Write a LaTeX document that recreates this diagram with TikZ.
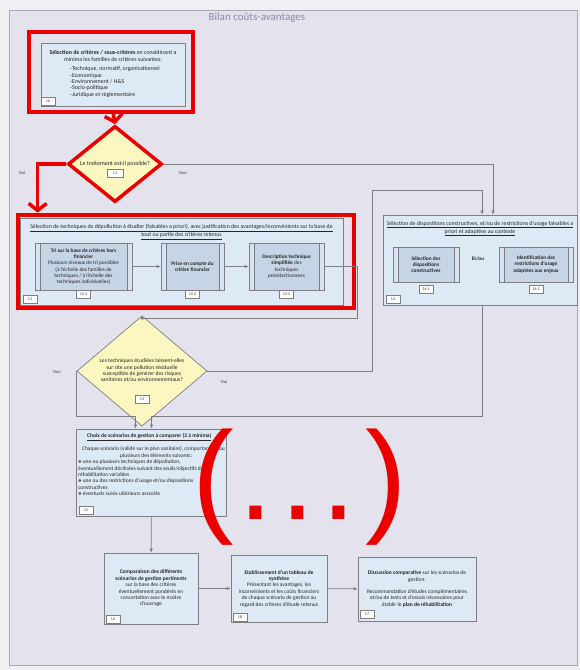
\documentclass[tikz,border=0pt]{standalone}
\usepackage{fontspec}
\setmainfont{Carlito}
\newfontfamily\symfont{DejaVu Sans}
\newfontfamily\arialfont{Liberation Sans}
\usetikzlibrary{shapes.geometric,arrows.meta}
\definecolor{pageback}{RGB}{240,239,243}
\definecolor{slideback}{RGB}{228,226,236}
\definecolor{framegray}{RGB}{170,168,180}
\definecolor{boxblue}{RGB}{221,233,244}
\definecolor{subblue}{RGB}{198,213,229}
\definecolor{barblue}{RGB}{216,227,239}
\definecolor{decyellow}{RGB}{252,247,192}
\definecolor{linegray}{RGB}{125,125,130}
\definecolor{titlegray}{RGB}{140,136,170}
\definecolor{flagred}{RGB}{235,0,0}
\newcommand\puce{{\symfont\fontsize{4.2}{4}\selectfont ❖}\,}
\begin{document}
\begin{tikzpicture}[x=1pt,y=-1pt]
\tikzset{box/.style={draw=linegray,fill=boxblue,line width=0.7pt,inner sep=2pt,align=center,text=black!85,font=\fontsize{5.5}{6.4}\selectfont}}
\tikzset{proc/.style={box,fill=subblue,font=\fontsize{5.3}{6.3}\selectfont,path picture={
  \fill[barblue] (path picture bounding box.north west) rectangle ([xshift=5pt]path picture bounding box.south west);
  \fill[barblue] (path picture bounding box.north east) rectangle ([xshift=-5pt]path picture bounding box.south east);
  \draw[linegray,line width=0.6pt] ([xshift=5pt]path picture bounding box.north west) -- ([xshift=5pt]path picture bounding box.south west)
    ([xshift=-5pt]path picture bounding box.north east) -- ([xshift=-5pt]path picture bounding box.south east);}}}
\tikzset{tag/.style={draw=linegray,fill=white,line width=0.5pt,minimum width=14pt,minimum height=8pt,inner sep=0pt,text=black!80,font=\fontsize{4}{4}\selectfont}}
\tikzset{decision/.style={diamond,draw=linegray,line width=0.7pt,fill=decyellow,inner sep=0pt,align=center,text=black!85,font=\fontsize{5.6}{6.4}\selectfont}}
\tikzset{boxtitle/.style={anchor=north,yshift=-3pt,align=center,text=black!85,font=\fontsize{5.8}{6.6}\selectfont}}
\tikzset{note/.style={text=black!75,font=\fontsize{4.5}{5}\selectfont}}
\tikzset{flow/.style={draw=linegray,line width=0.7pt,-{Latex[length=4pt,width=3.5pt]}}}
\tikzset{redflow/.style={draw=flagred,line width=3.5pt,-{Straight Barb[length=7pt,width=18pt]}}}
\tikzset{redframe/.style={draw=flagred,line width=4pt}}

\useasboundingbox[fill=pageback] (0,0) rectangle (580,670);
\draw[framegray,fill=slideback,line width=0.6pt] (9,10) rectangle (577,665);
\node[text=titlegray,font=\fontsize{11}{12}\selectfont] (titre) at (257,18) {Bilan coûts-avantages};

% criteres
\node[box,minimum width=144pt,minimum height=63pt,font=\fontsize{5.9}{6.4}\selectfont] (b10) at (113,74.5)
  {\textbf{Sélection de critères / sous-critères} en considérant a\\minima les familles de critères suivantes:\\[4pt]
   \hspace*{4pt}\begin{tabular}{@{}l@{}}-Technique, normatif, organisationnel\\-Economique\\-Environnement / H\&S\\-Socio-politique\\-Juridique et réglementaire\end{tabular}};
\node[tag] (t10) at (48,101) {10};
\draw[redframe] (29,32) rectangle (193,112);

% traitement possible ?
\node[decision,draw=flagred,line width=3.5pt,minimum width=94pt,minimum height=41pt,font=\fontsize{6}{6.5}\selectfont] (d11) at (115,164)
  {\raisebox{2pt}{Le traitement est-il possible?}};
\node[tag,minimum width=16pt] (t11) at (115,173) {11};
\node[note] (oui11) at (22,173) {Oui};
\node[note] (non11) at (183,173) {Non};

% techniques de depollution
\node[box,minimum width=323pt,minimum height=87pt,
  label={[boxtitle]north:\underline{Sélection de techniques de dépollution à étudier (faisables a priori), avec justification des avantages/inconvénients sur la base de}\\\underline{tout ou partie des critères retenus}}]
  (b12) at (181.5,261.5) {};
\node[proc,minimum width=97pt,minimum height=47pt] (s121) at (83.5,266.5)
  {\textbf{Tri sur la base de critères hors}\\\textbf{financier}\\Plusieurs niveaux de tri possibles\\(à l'échelle des familles de\\techniques / à l'échelle des\\techniques individuelles)};
\node[proc,minimum width=63pt,minimum height=47pt] (s122) at (192.5,266.5)
  {\textbf{Prise en compte du}\\\textbf{critère financier}};
\node[proc,minimum width=75pt,minimum height=47pt] (s123) at (286.5,266.5)
  {\textbf{Description technique}\\\textbf{simplifiée} des\\techniques\\présélectionnées};
\node[tag] (t121) at (83.5,294) {12-1};
\node[tag] (t122) at (192.5,294) {12-2};
\node[tag] (t123) at (286.5,294) {12-3};
\node[tag] (t12) at (30,299) {12};
\draw[flow] (s121) -- (s122);
\draw[flow] (s122) -- (s123);
\draw[redframe] (18,215) rectangle (354,308);

% dispositions constructives
\node[box,minimum width=194pt,minimum height=90pt,
  label={[boxtitle]north:\underline{Sélection de dispositions constructives, et/ou de restrictions d'usage faisables a}\\\underline{priori et adaptées au contexte}}]
  (b14) at (480,260) {};
\node[proc,minimum width=66pt,minimum height=35pt] (s141) at (426,264.5)
  {\textbf{Sélection des}\\\textbf{dispositions}\\\textbf{constructives}};
\node[proc,minimum width=74pt,minimum height=35pt] (s142) at (536,264.5)
  {\textbf{Identification des}\\\textbf{restrictions d'usage}\\\textbf{adaptées aux enjeux}};
\node[font=\fontsize{5.3}{6}\selectfont\bfseries,text=black!85] (etou) at (478,259) {Et/ou};
\node[tag] (t141) at (426,289) {14-1};
\node[tag] (t142) at (536,289) {14-2};
\node[tag] (t14) at (393,299) {14};

% pollution residuelle ?
\node[decision,minimum width=130pt,minimum height=82pt] (d13) at (142,371)
  {\raisebox{4pt}{\begin{tabular}{@{}c@{}}Les techniques étudiées laissent-elles\\sur site une pollution résiduelle\\susceptible de générer des risques\\sanitaires et/ou environnementaux?\end{tabular}}};
\node[tag] (t13) at (142,399) {13};
\node[note] (non13) at (57,372) {Non};
\node[note] (oui13) at (224,382) {Oui};

% scenarios
\node[box,minimum width=149pt,minimum height=87pt,align=left] (b15) at (151.5,472.5)
  {\hspace*{9pt}\underline{\textbf{Choix de scénarios de gestion à comparer (2 à minima)}}\\[5pt]
   \hspace*{4pt}Chaque scénario (validé sur le plan sanitaire), comportant un ou\\
   \hspace*{42pt}plusieurs des éléments suivants:\\
   \puce une ou plusieurs techniques de dépollution,\\
   éventuellement déclinées suivant des seuils/objectifs de\\
   réhabilitation variables\\
   \puce une ou des restrictions d'usage et/ou dispositions\\
   constructives\\
   \puce éventuels suivis ultérieurs associés\\[9pt]};
\node[tag] (t15) at (86,510) {15};

\node[box,minimum width=94pt,minimum height=71pt] (b16) at (151,588.5)
  {\textbf{Comparaison des différents}\\\textbf{scénarios de gestion pertinents}\\sur la base des critères\\éventuellement pondérés en\\concertation avec le maître\\d'ouvrage};
\node[tag] (t16) at (113,619) {16};
\node[box,minimum width=96pt,minimum height=67pt] (b18) at (279,588.5)
  {\textbf{Etablissement d'un tableau de}\\\textbf{synthèse}\\Présentant les avantages, les\\inconvénients et les coûts financiers\\de chaque scénario de gestion au\\regard des critères d'étude retenus};
\node[tag] (t18) at (240,617) {18};
\node[box,minimum width=118pt,minimum height=64pt] (b17) at (417,589)
  {\textbf{Discussion comparative} sur les scénarios de\\gestion.\\[6pt]Recommandation d'études complémentaires\\et/ou de tests et d'essais nécessaires pour\\établir le \textbf{plan de réhabilitation}};
\node[tag] (t17) at (367,614) {17};

% liaisons
\coordinate (c12) at (357,318);
\coordinate (c13) at (372,190);
\coordinate (c14) at (482,416);
\draw[redflow] (b10.south |- 0,112) -- (d11.north);
\draw[redflow] (d11.west) -| ([xshift=18pt,yshift=5pt]b12.north west);
\draw[flow] (d11.east) -| ([xshift=13pt]b14.north);
\draw[flow] (s123.east) -| (c12) -| (d13.north);
\draw[flow] (d13.east) -| (c13) -| ([xshift=2pt]b14.north);
\draw[flow] (d13.west) -- ++(0,45) -| ([xshift=-16pt]b15.north);
\draw[flow] ([xshift=2pt]b14.south) -- (c14) -| (b15.north);
\draw[flow] (b15) -- (b16);
\draw[flow] (b16) -- (b18);
\draw[flow] (b18) -- (b17);

\node[text=flagred,font=\arialfont\fontsize{125}{125}\selectfont,anchor=base,inner sep=0pt] (suite) at (300,519) {(\hspace{4pt}.\hspace{7pt}.\hspace{7pt}.\hspace{9pt})};
\end{tikzpicture}
\end{document}
